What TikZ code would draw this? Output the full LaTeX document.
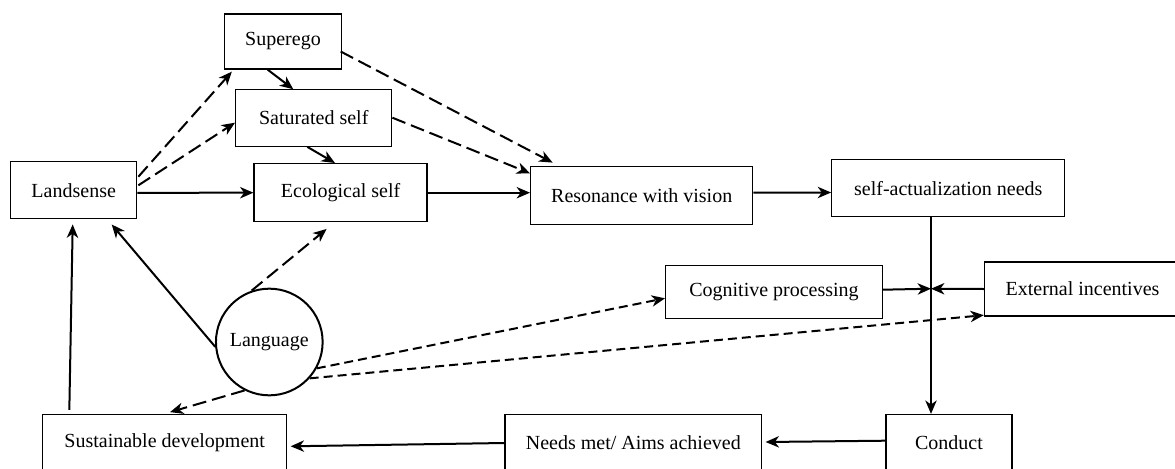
\documentclass[tikz,border=0pt]{standalone}
\usepackage{fontspec}
\setmainfont{Liberation Serif}
\usetikzlibrary{arrows.meta,calc}

\tikzset{every picture/.style={line width=0.75pt}}
\tikzset{
  box/.style={draw, line width=1pt, rectangle, inner sep=0pt, font=\rmfamily\fontsize{15}{18}\selectfont},
  ring/.style={draw, circle, line width=1.5pt, inner sep=0pt, minimum size=80pt, font=\rmfamily\fontsize{15}{18}\selectfont},
  flow/.style={line width=1.5pt, -{Stealth[length=10pt,width=8.5pt,inset=3pt]}},
  link/.style={flow, dash pattern=on 10.5pt off 4.5pt},
  hint/.style={flow, dash pattern=on 6.75pt off 3.75pt},
}

\begin{document}
\begin{tikzpicture}[x=0.75pt,y=0.75pt,yscale=-1,xscale=1]
  \clip (0,0) rectangle (1175,468);

  %boxes
  \node[box, minimum width=94.5pt, minimum height=42.75pt] (land) at (73.7,190.3) {Landsense};
  \node[box, minimum width=87.75pt, minimum height=41.25pt] (superego) at (283,41.5) {Superego};
  \node[box, minimum width=117pt, minimum height=42.75pt] (saturated) at (313.7,117.7) {Saturated self};
  \node[box, minimum width=129.75pt, minimum height=43.5pt] (eco) at (340.6,192.7) {Ecological self};
  \node[box, minimum width=166.5pt, minimum height=43.25pt] (reson) at (641.7,195.5) {Resonance with vision};
  \node[box, minimum width=174.75pt, minimum height=42.75pt] (selfact) at (948.3,188.3) {self-actualization needs};
  \node[box, minimum width=162.5pt, minimum height=39.75pt] (cog) at (774,291.7) {Cognitive processing};
  \node[box, minimum width=147pt, minimum height=40.5pt] (ext) at (1082.5,289) {External incentives};
  \node[ring] (lang) at (269.3,342) {Language};
  \node[box, minimum width=183pt, minimum height=42.75pt] (sust) at (164.7,443) {Sustainable development};
  \node[box, minimum width=192.5pt, minimum height=42.75pt] (needs) at (633.3,443) {Needs met/ Aims achieved};
  \node[box, minimum width=94.5pt, minimum height=42.75pt] (conduct) at (949,443) {Conduct};
  \coordinate (junc) at (931,288.7);

  %upper part
  \draw[link] ($(land.east)+(1,-13.6)$) -- ($(superego.south west)+(8,2)$);
  \draw[link] ($(land.east)+(1,-5)$) -- ($(saturated.west)+(0,5)$);
  \draw[flow] ($(land.east)+(0,2.5)$) -- (eco.west);
  \draw[flow] ($(superego.south)+(-15.3,0)$) -- ($(saturated.north)+(-20.4,0.7)$);
  \draw[flow] ($(saturated.south)+(-6.4,0)$) -- ($(eco.north)+(-5.6,0)$);
  \draw[link] ($(superego.east)+(-1.5,10)$) -- ($(reson.north west)+(22.6,-3.4)$);
  \draw[link] (saturated.east) -- ($(reson.north west)+(0,7.3)$);
  \draw[flow] (eco.east) -- (eco.east -| reson.west);
  \draw[flow] ($(reson.east)+(0,-3)$) -- ($(selfact.west)+(0,4.2)$);

  %right part
  \draw[flow] (junc |- selfact.south) -- (junc |- conduct.north);
  \draw[flow] ($(cog.east)+(0,-2)$) -- (junc);
  \draw[flow] (ext.west) -- (junc);

  %language
  \draw[flow] (lang.185) -- ($(land.south)+(38,5)$);
  \draw[link] (lang.109) -- ($(eco.south)+(-14,6.6)$);
  \draw[link] (lang.243) -- ($(sust.north)+(5.3,-1.7)$);
  \draw[hint] (lang.331) -- ($(cog.west)+(0,6.6)$);
  \draw[hint] (lang.318) -- ($(ext.south west)+(0,-1.5)$);

  %bottom row
  \draw[flow] ($(sust.north west)+(27.3,-4)$) -- ($(land.south)+(-1,5)$);
  \draw[flow] ($(conduct.west)+(0,-2.3)$) -- ($(needs.east)+(3.3,-1)$);
  \draw[flow] (needs.west) -- ($(sust.east)+(3.3,3.3)$);
\end{tikzpicture}
\end{document}
